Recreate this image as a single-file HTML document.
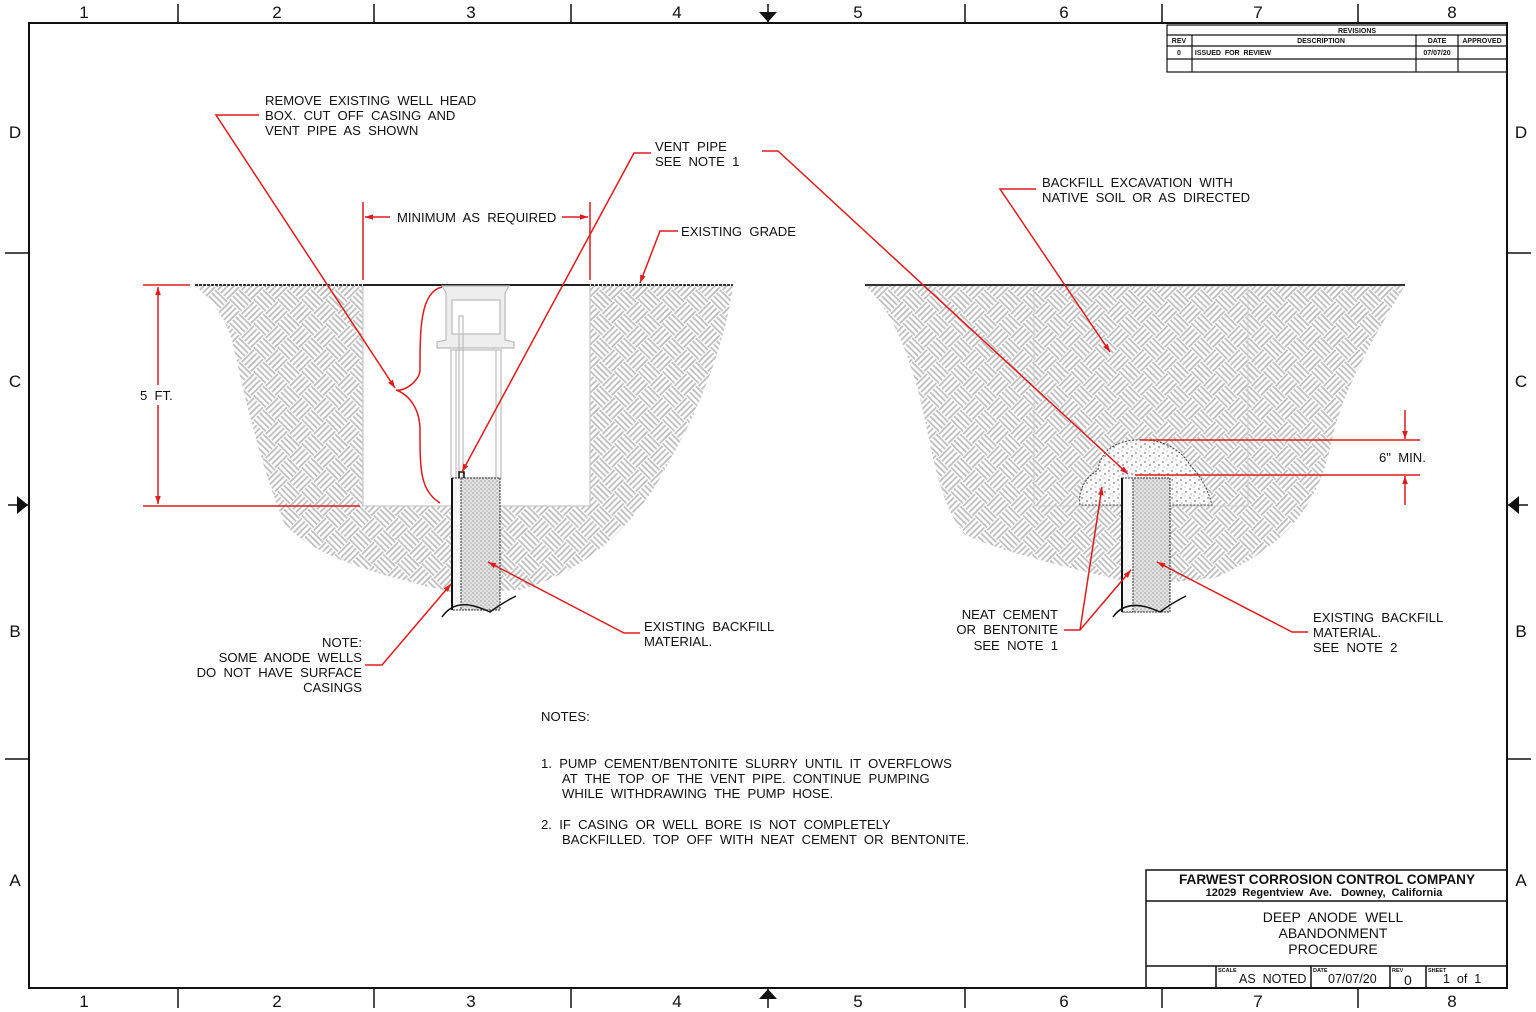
<!DOCTYPE html>
<html><head><meta charset="utf-8"><style>
html,body{margin:0;padding:0;background:#fff;}
svg{display:block;}
text{font-family:"Liberation Sans",sans-serif;fill:#111;white-space:pre;}
</style></head><body>
<svg width="1536" height="1012" viewBox="0 0 1536 1012" xmlns="http://www.w3.org/2000/svg" xml:space="preserve">
<defs>
<pattern id="weave" width="34" height="34" patternUnits="userSpaceOnUse" patternTransform="rotate(45)">
<g stroke="#bdbdbd" stroke-width="1.8">
<line x1="0" y1="2" x2="17" y2="2"/><line x1="0" y1="6.3" x2="17" y2="6.3"/><line x1="0" y1="10.6" x2="17" y2="10.6"/><line x1="0" y1="15" x2="17" y2="15"/>
<line x1="19" y1="0" x2="19" y2="17"/><line x1="23.3" y1="0" x2="23.3" y2="17"/><line x1="27.6" y1="0" x2="27.6" y2="17"/><line x1="32" y1="0" x2="32" y2="17"/>
<line x1="2" y1="17" x2="2" y2="34"/><line x1="6.3" y1="17" x2="6.3" y2="34"/><line x1="10.6" y1="17" x2="10.6" y2="34"/><line x1="15" y1="17" x2="15" y2="34"/>
<line x1="17" y1="19" x2="34" y2="19"/><line x1="17" y1="23.3" x2="34" y2="23.3"/><line x1="17" y1="27.6" x2="34" y2="27.6"/><line x1="17" y1="32" x2="34" y2="32"/>
</g></pattern>
<pattern id="dots" width="4" height="4" patternUnits="userSpaceOnUse">
<rect width="4" height="4" fill="#e4e4e4"/><circle cx="1" cy="1" r="0.8" fill="#999"/><circle cx="3" cy="3" r="0.8" fill="#aaa"/></pattern>
<pattern id="speck" width="9" height="9" patternUnits="userSpaceOnUse">
<rect width="9" height="9" fill="#fafafa"/><circle cx="2" cy="3" r="0.7" fill="#555"/><circle cx="6" cy="1" r="0.5" fill="#777"/><circle cx="7" cy="6" r="0.7" fill="#444"/><circle cx="3" cy="8" r="0.5" fill="#666"/></pattern>
<marker id="ar" viewBox="0 0 10 10" refX="10" refY="5" markerWidth="10" markerHeight="8" orient="auto-start-reverse" markerUnits="userSpaceOnUse"><path d="M0,1.5 L10,5 L0,8.5 Z" fill="#e01b1b"/></marker>
</defs>

<rect x="29" y="23" width="1478" height="965" fill="none" stroke="#111" stroke-width="2"/>
<g stroke="#111" stroke-width="1.5">
<line x1="178" y1="4" x2="178" y2="23"/><line x1="374" y1="4" x2="374" y2="23"/><line x1="571" y1="4" x2="571" y2="23"/><line x1="965" y1="4" x2="965" y2="23"/><line x1="1162" y1="4" x2="1162" y2="23"/><line x1="1358" y1="4" x2="1358" y2="23"/>
<line x1="178" y1="988" x2="178" y2="1008"/><line x1="374" y1="988" x2="374" y2="1008"/><line x1="571" y1="988" x2="571" y2="1008"/><line x1="965" y1="988" x2="965" y2="1008"/><line x1="1162" y1="988" x2="1162" y2="1008"/><line x1="1358" y1="988" x2="1358" y2="1008"/>
<line x1="5" y1="253" x2="29" y2="253"/><line x1="5" y1="759" x2="29" y2="759"/>
<line x1="1507" y1="253" x2="1531" y2="253"/><line x1="1507" y1="759" x2="1531" y2="759"/>
<line x1="768" y1="4" x2="768" y2="23"/><line x1="768" y1="988" x2="768" y2="1008"/>
<line x1="8" y1="505" x2="29" y2="505"/><line x1="1507" y1="505" x2="1528" y2="505"/>
</g>
<path d="M759,12 L777,12 L768,22 Z M759,999 L777,999 L768,989 Z M17,496 L17,514 L28,505 Z M1519,496 L1519,514 L1508,505 Z" fill="#111"/>
<g font-size="17" text-anchor="middle">
<text x="84" y="18">1</text><text x="277" y="18">2</text><text x="471" y="18">3</text><text x="677" y="18">4</text><text x="858" y="18">5</text><text x="1064" y="18">6</text><text x="1258" y="18">7</text><text x="1452" y="18">8</text>
<text x="84" y="1007">1</text><text x="277" y="1007">2</text><text x="471" y="1007">3</text><text x="677" y="1007">4</text><text x="858" y="1007">5</text><text x="1064" y="1007">6</text><text x="1258" y="1007">7</text><text x="1452" y="1007">8</text>
<text x="15" y="138">D</text><text x="15" y="387">C</text><text x="15" y="637">B</text><text x="15" y="886">A</text>
<text x="1521" y="138">D</text><text x="1521" y="387">C</text><text x="1521" y="637">B</text><text x="1521" y="886">A</text>
</g>

<g stroke="#111" stroke-width="1.2" fill="none">
<rect x="1167" y="25" width="340" height="47"/>
<line x1="1167" y1="35" x2="1507" y2="35"/><line x1="1167" y1="46" x2="1507" y2="46"/><line x1="1167" y1="59" x2="1507" y2="59"/>
<line x1="1192" y1="35" x2="1192" y2="72"/><line x1="1416" y1="35" x2="1416" y2="72"/><line x1="1458" y1="35" x2="1458" y2="72"/>
</g>
<g font-size="7" font-weight="bold" text-anchor="middle">
<text x="1357" y="33">REVISIONS</text><text x="1179" y="43">REV</text><text x="1321" y="43">DESCRIPTION</text><text x="1437" y="43">DATE</text><text x="1482" y="43">APPROVED</text>
<text x="1179" y="55">0</text><text x="1233" y="55">ISSUED  FOR  REVIEW</text><text x="1437" y="55">07/07/20</text>
</g>

<path d="M195,285 L733,285 C728,330 705,400 670,460 C640,520 590,570 520,590 L450,592 C380,575 320,560 285,525 C262,470 245,400 232,340 C222,310 205,295 195,285 Z" fill="url(#weave)"/>
<rect x="363" y="285" width="227" height="221" fill="#fff" stroke="#c8c8c8" stroke-width="1.2"/>
<line x1="195" y1="285" x2="733" y2="285" stroke="#333" stroke-width="2" stroke-dasharray="3,1"/>
<line x1="363" y1="285" x2="590" y2="285" stroke="#222" stroke-width="2"/>
<g stroke="#bbb" stroke-width="1.2" fill="none">
<path d="M442,286 L509,286 L505,293 L505,340 L514,342 L514,348 L437,348 L437,342 L446,340 L446,293 Z" fill="#eee"/>
<rect x="452" y="300" width="48" height="34" fill="#fff"/>
<rect x="451" y="350" width="50" height="128" fill="#fff"/>
<line x1="456" y1="350" x2="456" y2="478"/><line x1="496" y1="350" x2="496" y2="478"/>
<rect x="459" y="316" width="4" height="162"/>
</g>
<rect x="452" y="478" width="48" height="132" fill="url(#dots)" stroke="#333" stroke-dasharray="2,1"/>
<rect x="452" y="478" width="9" height="132" fill="#f5f5f5" stroke="#333" stroke-dasharray="2,1"/>
<line x1="452" y1="478" x2="452" y2="610" stroke="#111" stroke-width="2"/>
<path d="M459,478 L459,472 L464,472 L464,478" stroke="#111" fill="none" stroke-width="1.5"/>
<path d="M442,617 C455,598 475,605 490,612 C498,606 508,600 516,596" stroke="#111" fill="none" stroke-width="1.5"/>

<path d="M865,285 L1405,285 C1385,320 1345,380 1332,440 C1320,500 1290,545 1215,578 L1140,585 C1080,570 1010,555 965,535 C935,500 930,430 915,380 C900,330 885,305 865,285 Z" fill="url(#weave)"/>
<rect x="1034" y="286" width="214" height="220" fill="none" stroke="#ccc" stroke-width="1"/>
<line x1="865" y1="285" x2="1405" y2="285" stroke="#333" stroke-width="2"/>
<path d="M1080,505 C1078,490 1085,478 1098,470 C1100,455 1110,442 1135,440 C1160,438 1180,448 1190,465 C1202,478 1208,490 1212,505 Z" fill="url(#speck)" stroke="#444" stroke-dasharray="2,1.5"/>
<rect x="1122" y="478" width="48" height="134" fill="url(#dots)" stroke="#333" stroke-dasharray="2,1"/>
<rect x="1122" y="478" width="11" height="134" fill="#f5f5f5" stroke="#333" stroke-dasharray="2,1"/>
<line x1="1122" y1="478" x2="1122" y2="612" stroke="#111" stroke-width="2"/>
<path d="M1113,617 C1125,600 1145,605 1160,612 C1168,606 1178,600 1186,596" stroke="#111" fill="none" stroke-width="1.5"/>

<g stroke="#e01b1b" stroke-width="1.5" fill="none">
<line x1="143" y1="285" x2="190" y2="285"/><line x1="143" y1="506" x2="360" y2="506"/>
<line x1="158" y1="287" x2="158" y2="385" marker-start="url(#ar)"/><line x1="158" y1="405" x2="158" y2="504" marker-end="url(#ar)"/>
<line x1="363" y1="202" x2="363" y2="280"/><line x1="590" y1="202" x2="590" y2="280"/>
<line x1="365" y1="217" x2="390" y2="217" marker-start="url(#ar)"/><line x1="562" y1="217" x2="588" y2="217" marker-end="url(#ar)"/>
<polyline points="678,231 660,231 640,283" marker-end="url(#ar)"/>
<polyline points="259,115 216,115 395,388" marker-end="url(#ar)"/>
<path d="M442,287 C420,292 420,330 420,370 C420,380 405,392 396,390 C410,395 420,410 420,430 C420,470 420,490 440,503"/>
<polyline points="651,153 634,153 462,472" marker-end="url(#ar)"/>
<polyline points="762,151 778,151 1128,474" marker-end="url(#ar)"/>
<polyline points="365,665 382,665 451,584" marker-end="url(#ar)"/>
<polyline points="640,633 624,633 488,562" marker-end="url(#ar)"/>
<polyline points="1036,189 1000,189 1110,352" marker-end="url(#ar)"/>
<polyline points="1064,630 1080,630 1102,487" marker-end="url(#ar)"/>
<polyline points="1080,630 1131,570" marker-end="url(#ar)"/>
<polyline points="1308,632 1292,632 1157,562" marker-end="url(#ar)"/>
<line x1="1140" y1="440" x2="1420" y2="440"/><line x1="1135" y1="475" x2="1420" y2="475"/>
<line x1="1405" y1="410" x2="1405" y2="439" marker-end="url(#ar)"/><line x1="1405" y1="505" x2="1405" y2="476" marker-end="url(#ar)"/>
</g>

<g font-size="13.1">
<text x="265" y="105">REMOVE  EXISTING  WELL  HEAD</text>
<text x="265" y="120">BOX.  CUT  OFF  CASING  AND</text>
<text x="265" y="135">VENT  PIPE  AS  SHOWN</text>
<text x="655" y="151">VENT  PIPE</text><text x="655" y="166">SEE  NOTE  1</text>
<text x="397" y="222">MINIMUM  AS  REQUIRED</text>
<text x="681" y="236">EXISTING  GRADE</text>
<text x="140" y="400">5  FT.</text>
<text x="1042" y="187">BACKFILL  EXCAVATION  WITH</text>
<text x="1042" y="202">NATIVE  SOIL  OR  AS  DIRECTED</text>
<text x="1379" y="462">6"  MIN.</text>
<text x="644" y="631">EXISTING  BACKFILL</text><text x="644" y="646">MATERIAL.</text>
<g text-anchor="end">
<text x="362" y="647">NOTE:</text><text x="362" y="662">SOME  ANODE  WELLS</text><text x="362" y="677">DO  NOT  HAVE  SURFACE</text><text x="362" y="692">CASINGS</text>
<text x="1058" y="619">NEAT  CEMENT</text><text x="1058" y="634">OR  BENTONITE</text><text x="1058" y="650">SEE  NOTE  1</text>
</g>
<text x="1313" y="622">EXISTING  BACKFILL</text><text x="1313" y="637">MATERIAL.</text><text x="1313" y="652">SEE  NOTE  2</text>
<text x="541" y="721">NOTES:</text>
<text x="541" y="768">1.  PUMP  CEMENT/BENTONITE  SLURRY  UNTIL  IT  OVERFLOWS</text>
<text x="562" y="783">AT  THE  TOP  OF  THE  VENT  PIPE.  CONTINUE  PUMPING</text>
<text x="562" y="798">WHILE  WITHDRAWING  THE  PUMP  HOSE.</text>
<text x="541" y="829">2.  IF  CASING  OR  WELL  BORE  IS  NOT  COMPLETELY</text>
<text x="562" y="844">BACKFILLED.  TOP  OFF  WITH  NEAT  CEMENT  OR  BENTONITE.</text>
</g>

<g stroke="#111" stroke-width="1.5" fill="none">
<rect x="1146" y="870" width="361" height="118"/>
<line x1="1146" y1="901" x2="1507" y2="901"/><line x1="1146" y1="966" x2="1507" y2="966"/>
<line x1="1216" y1="966" x2="1216" y2="988"/><line x1="1311" y1="966" x2="1311" y2="988"/><line x1="1390" y1="966" x2="1390" y2="988"/><line x1="1426" y1="966" x2="1426" y2="988"/>
</g>
<text x="1327" y="884" font-size="14" font-weight="bold" text-anchor="middle" textLength="296" lengthAdjust="spacingAndGlyphs">FARWEST CORROSION CONTROL COMPANY</text>
<text x="1324" y="896" font-size="11" font-weight="bold" text-anchor="middle">12029  Regentview  Ave.   Downey,  California</text>
<g font-size="14" text-anchor="middle">
<text x="1333" y="922">DEEP  ANODE  WELL</text><text x="1333" y="938">ABANDONMENT</text><text x="1333" y="954">PROCEDURE</text>
</g>
<g font-size="5.5" font-weight="bold"><text x="1218" y="972">SCALE</text><text x="1313" y="972">DATE</text><text x="1392" y="972">REV</text><text x="1428" y="972">SHEET</text></g>
<g font-size="12.5"><text x="1239" y="983">AS  NOTED</text><text x="1328" y="983">07/07/20</text><text x="1404" y="985" font-size="14">0</text><text x="1443" y="983">1  of  1</text></g>
</svg>
</body></html>
